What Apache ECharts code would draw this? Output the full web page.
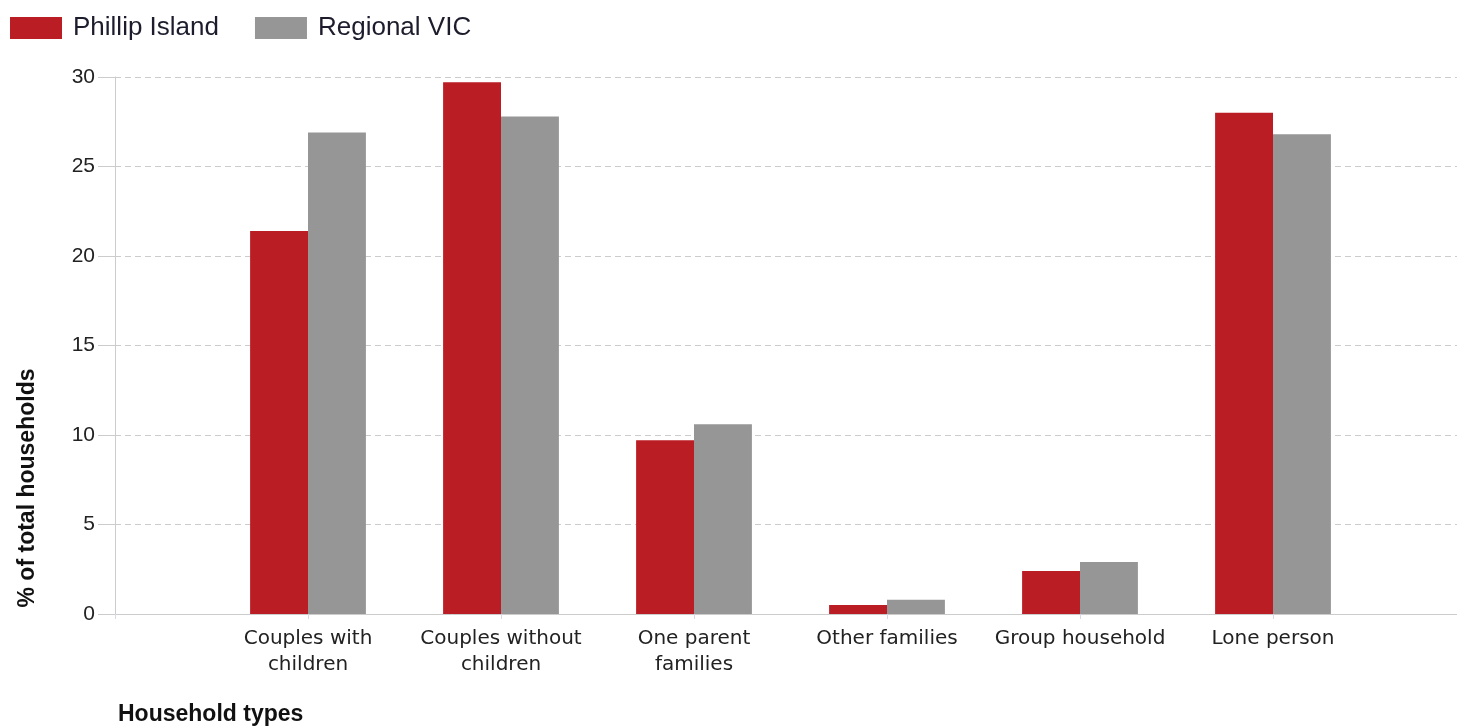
<!DOCTYPE html>
<html>
<head>
<meta charset="utf-8">
<script src="https://cdn.jsdelivr.net/npm/echarts@6/dist/echarts.min.js"></script>
<style>html,body{margin:0;padding:0;background:#fff;overflow:hidden;}#c{width:1470px;height:726px;}</style>
</head>
<body>
<div id="c"></div>
<script>
const categories = ['', 'Couples with\nchildren', 'Couples without\nchildren', 'One parent\nfamilies', 'Other families', 'Group household', 'Lone person', ''];
const phillipIsland = ['-', 21.4, 29.7, 9.7, 0.5, 2.4, 28.0, '-'];
const regionalVic = ['-', 26.9, 27.8, 10.6, 0.8, 2.9, 26.8, '-'];
const yTicks = [0, 5, 10, 15, 20, 25, 30];

const chart = echarts.init(document.getElementById('c'), null, {renderer: 'canvas'});
chart.setOption({
  animation: false,
  backgroundColor: '#ffffff',
  legend: {
    left: 10, top: 15, padding: 0,
    itemWidth: 52, itemHeight: 22, itemGap: 36,
    icon: 'rect',
    textStyle: {fontFamily: '"Liberation Sans", Arial', fontSize: 26, color: '#1c1c2c', padding: [0, 0, 0, 6]},
    data: ['Phillip Island', 'Regional VIC']
  },
  grid: {left: 115, top: 77, right: 4, height: 537, containLabel: false},
  xAxis: {
    type: 'category',
    data: categories,
    boundaryGap: false,
    axisLine: {lineStyle: {color: '#cccccc', width: 1}},
    axisTick: {show: true, length: 5, interval: 0, lineStyle: {color: '#d8d8e8'}},
    axisLabel: {interval: 0, margin: 12, fontFamily: '"DejaVu Sans"', fontSize: 20, lineHeight: 26, color: '#222222'},
    splitLine: {show: false}
  },
  yAxis: {
    type: 'value',
    min: yTicks[0], max: yTicks[yTicks.length - 1], interval: 5,
    axisLine: {show: true, lineStyle: {color: '#cccccc'}},
    axisTick: {show: true, length: 17, lineStyle: {color: '#cccccc'}},
    axisLabel: {margin: 20, fontFamily: '"Liberation Sans", Arial', fontSize: 21, color: '#222222'},
    splitLine: {show: true, lineStyle: {color: '#cccccc', type: [6, 4]}}
  },
  series: [
    {name: 'Phillip Island', type: 'bar', data: phillipIsland, barGap: '0%', barCategoryGap: '40%', itemStyle: {color: '#bb1d25'}},
    {name: 'Regional VIC', type: 'bar', data: regionalVic, barGap: '0%', barCategoryGap: '40%', itemStyle: {color: '#969696'}}
  ],
  graphic: [
    {type: 'text', x: 28, y: 488, rotation: Math.PI / 2,
      style: {text: '% of total households', font: 'bold 23px "Liberation Sans", Arial', fill: '#111', textAlign: 'center', textVerticalAlign: 'middle'}},
    {type: 'text', left: 118, top: 703,
      style: {text: 'Household types', font: 'bold 23px "Liberation Sans", Arial', fill: '#111'}}
  ]
});
</script>
</body>
</html>
